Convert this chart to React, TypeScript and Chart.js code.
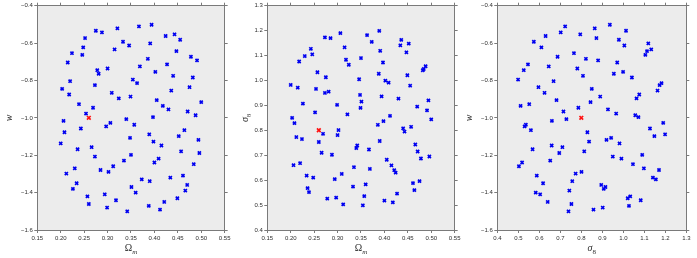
import React, { useEffect, useRef } from "react";
import { Chart, registerables } from "chart.js";

Chart.register(...registerables);

// Sampled design points (same 100 points projected onto three planes)
const omegaM = [
  0.394, 0.367, 0.321, 0.275, 0.288, 0.443, 0.424, 0.252, 0.455, 0.333,
  0.391, 0.346, 0.248, 0.315, 0.447, 0.224, 0.246, 0.478, 0.386, 0.491,
  0.215, 0.427, 0.369, 0.300, 0.278, 0.402, 0.281, 0.440, 0.482, 0.354,
  0.220, 0.363, 0.273, 0.475, 0.203, 0.436, 0.309, 0.218, 0.349, 0.324,
  0.405, 0.500, 0.239, 0.418, 0.269, 0.430, 0.471, 0.254, 0.488, 0.397,
  0.340, 0.206, 0.306, 0.357, 0.297, 0.243, 0.464, 0.208, 0.389, 0.452,
  0.348, 0.494, 0.398, 0.200, 0.415, 0.266, 0.236, 0.457, 0.496, 0.350,
  0.273, 0.409, 0.335, 0.400, 0.484, 0.312, 0.230, 0.285, 0.302, 0.212,
  0.461, 0.434, 0.373, 0.390, 0.234, 0.470, 0.351, 0.226, 0.466, 0.360,
  0.294, 0.257, 0.449, 0.318, 0.421, 0.260, 0.388, 0.299, 0.412, 0.342,
];

const w = [
  -0.502, -0.511, -0.521, -0.534, -0.543, -0.553, -0.562, -0.573, -0.582, -0.593,
  -0.602, -0.613, -0.623, -0.634, -0.643, -0.654, -0.663, -0.673, -0.684, -0.693,
  -0.704, -0.714, -0.725, -0.736, -0.745, -0.754, -0.764, -0.775, -0.784, -0.795,
  -0.804, -0.814, -0.825, -0.836, -0.845, -0.854, -0.866, -0.875, -0.886, -0.896,
  -0.905, -0.916, -0.927, -0.936, -0.946, -0.955, -0.966, -0.977, -0.986, -0.996,
  -1.007, -1.016, -1.027, -1.037, -1.046, -1.057, -1.066, -1.077, -1.088, -1.098,
  -1.107, -1.118, -1.127, -1.137, -1.148, -1.157, -1.168, -1.179, -1.188, -1.198,
  -1.207, -1.218, -1.229, -1.239, -1.248, -1.259, -1.270, -1.279, -1.289, -1.298,
  -1.309, -1.320, -1.329, -1.339, -1.350, -1.359, -1.370, -1.380, -1.389, -1.400,
  -1.409, -1.420, -1.430, -1.441, -1.450, -1.461, -1.471, -1.480, -1.491, -1.500,
];

const sigma8 = [
  0.936, 0.723, 0.864, 1.013, 0.702, 0.795, 0.630, 0.872, 0.979, 0.574,
  1.119, 1.005, 0.610, 1.133, 1.113, 0.765, 1.105, 0.687, 0.822, 0.880,
  0.971, 0.546, 0.645, 0.781, 0.526, 0.999, 0.955, 0.808, 1.041, 0.499,
  0.668, 1.182, 1.173, 0.596, 0.850, 1.163, 0.625, 1.076, 0.890, 1.063,
  0.682, 0.844, 0.552, 0.511, 0.786, 0.927, 0.715, 0.966, 1.057, 1.072,
  0.729, 0.660, 1.190, 0.536, 0.530, 1.127, 0.560, 0.829, 1.199, 1.148,
  0.942, 0.920, 0.837, 0.982, 0.659, 0.710, 0.568, 0.814, 0.695, 1.090,
  0.950, 0.991, 0.652, 0.518, 1.046, 0.503, 1.098, 1.170, 0.801, 0.773,
  0.588, 1.141, 1.155, 0.757, 0.618, 0.895, 0.915, 0.907, 0.743, 0.583,
  0.604, 1.033, 1.021, 1.083, 0.640, 0.753, 1.027, 0.902, 0.858, 0.739,
];

// Fiducial point (red)
const fidOmegaM = [0.26];
const fidW = [-1.0];
const fidSigma8 = [0.8];

// Tick values
const omegaTicks = [0.15, 0.2, 0.25, 0.3, 0.35, 0.4, 0.45, 0.5, 0.55];
const wTicks = [-1.6, -1.4, -1.2, -1.0, -0.8, -0.6, -0.4];
const sigmaTicks = [0.4, 0.5, 0.6, 0.7, 0.8, 0.9, 1.0, 1.1, 1.2, 1.3];

const PLOT_BG = "#ececec";
const AXIS = "#7a7a7a";
const TEXT = "#2e2e2e";
const TICK_FONT = { family: "'Liberation Sans', Arial, sans-serif", size: 6 };

type Label = { main: string; sub: string; italicMain: boolean; italicSub: boolean };

type Panel = {
  xs: number[];
  ys: number[];
  fx: number[];
  fy: number[];
  xTicks: number[];
  yTicks: number[];
  xDec: number;
  yDec: number;
  xLabel: Label;
  yLabel: Label;
  yTitleX: number;
};

const LBL_OMEGA: Label = { main: "Ω", sub: "m", italicMain: false, italicSub: true };
const LBL_W: Label = { main: "w", sub: "", italicMain: true, italicSub: false };
const LBL_SIGMA: Label = { main: "σ", sub: "8", italicMain: true, italicSub: false };

const panels: Panel[] = [
  { xs: omegaM, ys: w, fx: fidOmegaM, fy: fidW, xTicks: omegaTicks, yTicks: wTicks, xDec: 2, yDec: 1, xLabel: LBL_OMEGA, yLabel: LBL_W, yTitleX: 9 },
  { xs: omegaM, ys: sigma8, fx: fidOmegaM, fy: fidSigma8, xTicks: omegaTicks, yTicks: sigmaTicks, xDec: 2, yDec: 1, xLabel: LBL_OMEGA, yLabel: LBL_SIGMA, yTitleX: 15 },
  { xs: sigma8, ys: w, fx: fidSigma8, fy: fidW, xTicks: sigmaTicks, yTicks: wTicks, xDec: 1, yDec: 1, xLabel: LBL_SIGMA, yLabel: LBL_W, yTitleX: 9 },
];

const fmt = (v: number, dec: number) => (v < 0 ? "\u2212" : "") + Math.abs(v).toFixed(dec);

function drawLabel(ctx: CanvasRenderingContext2D, lbl: Label, cx: number, baseline: number) {
  const fam = "'Liberation Serif', 'Times New Roman', serif";
  const mainFont = `${lbl.italicMain ? "italic " : ""}10px ${fam}`;
  const subFont = `${lbl.italicSub ? "italic " : ""}7px ${fam}`;
  ctx.font = mainFont;
  const mw = ctx.measureText(lbl.main).width;
  ctx.font = subFont;
  const sw = lbl.sub ? ctx.measureText(lbl.sub).width : 0;
  const start = cx - (mw + sw) / 2;
  ctx.textAlign = "left";
  ctx.textBaseline = "alphabetic";
  ctx.fillStyle = TEXT;
  ctx.font = mainFont;
  ctx.fillText(lbl.main, start, baseline);
  if (lbl.sub) {
    ctx.font = subFont;
    ctx.fillText(lbl.sub, start + mw, baseline + 2.5);
  }
}

const panelDecor = {
  id: "panelDecor",
  beforeDraw(chart: any) {
    const { ctx, chartArea } = chart;
    ctx.save();
    ctx.fillStyle = PLOT_BG;
    ctx.fillRect(chartArea.left, chartArea.top, chartArea.right - chartArea.left, chartArea.bottom - chartArea.top);
    ctx.restore();
  },
  afterDraw(chart: any, _args: any, opts: any) {
    const { ctx, chartArea } = chart;
    const cx = (chartArea.left + chartArea.right) / 2;
    const cy = (chartArea.top + chartArea.bottom) / 2;
    ctx.save();
    drawLabel(ctx, opts.xLabel, cx, chartArea.bottom + 21);
    ctx.translate(opts.yTitleX, cy);
    ctx.rotate(-Math.PI / 2);
    drawLabel(ctx, opts.yLabel, 0, 3);
    ctx.restore();
  },
};

function axis(position: string, ticksArr: number[], dec: number, showLabels: boolean, size: number) {
  const min = ticksArr[0];
  const max = ticksArr[ticksArr.length - 1];
  const horizontal = position === "top" || position === "bottom";
  return {
    type: "linear",
    position,
    min,
    max,
    afterBuildTicks: (s: any) => {
      s.ticks = ticksArr.map((v) => ({ value: v }));
    },
    afterFit: (s: any) => {
      if (horizontal) s.height = size;
      else s.width = size;
    },
    ticks: {
      display: showLabels,
      autoSkip: false,
      maxRotation: 0,
      minRotation: 0,
      padding: 1.5,
      font: TICK_FONT,
      color: TEXT,
      callback: (v: any) => fmt(Number(v), dec),
    },
    grid: {
      display: true,
      drawOnChartArea: false,
      drawTicks: true,
      tickLength: 3,
      color: AXIS,
      lineWidth: 1,
    },
    border: { display: true, color: AXIS, width: 1 },
  };
}

function PanelChart({ panel, left }: { panel: Panel; left: number }) {
  const ref = useRef<HTMLCanvasElement | null>(null);
  useEffect(() => {
    if (!ref.current) return;
    const chart = new Chart(ref.current, {
      type: "scatter",
      data: {
        datasets: [
          {
            data: panel.xs.map((x, i) => ({ x, y: panel.ys[i] })),
            pointStyle: "crossRot",
            pointRadius: 2.2,
            borderColor: "#0000f0",
            backgroundColor: "#0000f0",
            borderWidth: 1.7,
            xAxisID: "x",
            yAxisID: "y",
          },
          {
            data: panel.fx.map((x, i) => ({ x, y: panel.fy[i] })),
            pointStyle: "crossRot",
            pointRadius: 2.6,
            borderColor: "#ff1010",
            backgroundColor: "#ff1010",
            borderWidth: 1.7,
            xAxisID: "x",
            yAxisID: "y",
          },
        ],
      } as any,
      options: {
        animation: false,
        responsive: false,
        devicePixelRatio: 1,
        layout: { padding: 0 },
        events: [],
        plugins: {
          legend: { display: false },
          tooltip: { enabled: false },
          title: { display: false },
          panelDecor: { xLabel: panel.xLabel, yLabel: panel.yLabel, yTitleX: panel.yTitleX },
        } as any,
        scales: {
          x: axis("bottom", panel.xTicks, panel.xDec, true, 28),
          x2: axis("top", panel.xTicks, panel.xDec, false, 5.7),
          y: axis("left", panel.yTicks, panel.yDec, true, 37.3),
          y2: axis("right", panel.yTicks, panel.yDec, false, 3.3),
        } as any,
      },
      plugins: [panelDecor as any],
    });
    return () => chart.destroy();
  }, [panel]);
  return (
    <canvas
      ref={ref}
      width={232}
      height={258}
      style={{ position: "absolute", left, top: 0, width: 232, height: 258 }}
    />
  );
}

export default function App() {
  return (
    <div style={{ position: "fixed", left: 0, top: 0, width: 697, height: 258, background: "#ffffff", overflow: "hidden" }}>
      {panels.map((p, i) => (
        <PanelChart key={i} panel={p} left={i * 230} />
      ))}
    </div>
  );
}
